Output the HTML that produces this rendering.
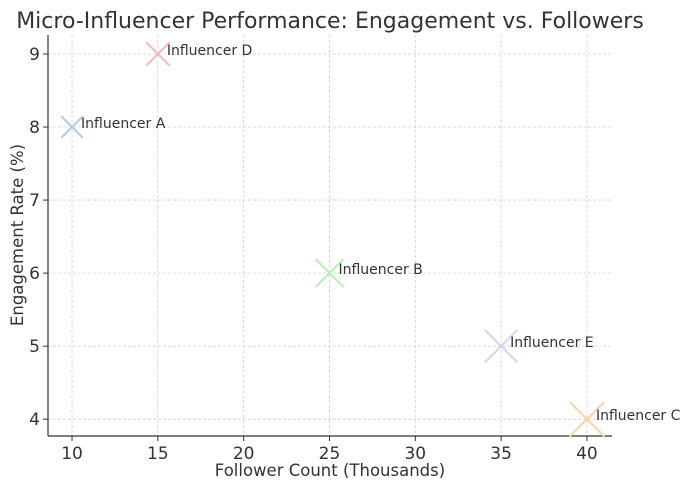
<!DOCTYPE html>
<html><head><meta charset="utf-8"><style>
body{margin:0;background:#fff;}
svg{display:block;font-family:"DejaVu Sans","Liberation Sans",sans-serif;}
</style></head><body>
<svg id="chart" width="689" height="490" xmlns="http://www.w3.org/2000/svg">
<text x="330" y="28" font-size="22" fill="#333" text-anchor="middle">Micro-Influencer Performance: Engagement vs. Followers</text>
<g id="grid"></g><g id="axes"></g><g id="marks"></g>
<text x="330" y="476" font-size="16.5" fill="#333" text-anchor="middle">Follower Count (Thousands)</text>
<text transform="translate(23,235) rotate(-90)" font-size="16.5" fill="#333" text-anchor="middle">Engagement Rate (%)</text>
</svg>
<script>
const names=["Influencer A","Influencer B","Influencer C","Influencer D","Influencer E"];
const followers=[10,25,40,15,35];
const engagement=[8,6,4,9,5];
const colors=["#a8cdf7","#b5f0b5","#f9d3ab","#f8b8b8","#d5d3f1"];
const xTicks=[10,15,20,25,30,35,40];
const yTicks=[4,5,6,7,8,9];
const L=48,R=612,T=35,B=436;
const x0=8.6,x1=41.46,y0=3.77,y1=9.26;
const sx=v=>L+(v-x0)/(x1-x0)*(R-L);
const sy=v=>B-(v-y0)/(y1-y0)*(B-T);
const NS="http://www.w3.org/2000/svg";
function mk(t,a,p){const e=document.createElementNS(NS,t);for(const k in a)e.setAttribute(k,a[k]);p.appendChild(e);return e;}
const grid=document.getElementById('grid'),axes=document.getElementById('axes'),marks=document.getElementById('marks');
xTicks.forEach(v=>{
 const g=mk('line',{x1:sx(v),x2:sx(v),y1:T,y2:B,stroke:'#d0d0d0','stroke-dasharray':'3,2','stroke-width':0.8},grid);
 
 
 mk('line',{x1:sx(v),x2:sx(v),y1:B,y2:B+5,stroke:'#333'},axes);
 const t=mk('text',{x:sx(v),y:B+23,'font-size':17,fill:'#333','text-anchor':'middle'},axes);t.textContent=v;
 
 
});
yTicks.forEach(v=>{
 const g=mk('line',{x1:L,x2:R,y1:sy(v),y2:sy(v),stroke:'#d0d0d0','stroke-dasharray':'3,2','stroke-width':0.8},grid);
 
 
 mk('line',{x1:L-5,x2:L,y1:sy(v),y2:sy(v),stroke:'#333'},axes);
 const t=mk('text',{x:L-8,y:sy(v)+6,'font-size':17,fill:'#333','text-anchor':'end'},axes);t.textContent=v;
 
 
});
const xa=mk('line',{x1:L,x2:R,y1:B,y2:B,stroke:'#333','stroke-width':1.2},axes);


const ya=mk('line',{x1:L,x2:L,y1:T,y2:B,stroke:'#333','stroke-width':1.2},axes);


names.forEach((n,i)=>{
 const cx=sx(followers[i]),cy=sy(engagement[i]),h=8.5+followers[i]*0.22;
 const g=mk('g',{},marks);
 
 
 mk('line',{x1:cx-h,y1:cy-h,x2:cx+h,y2:cy+h,stroke:colors[i],'stroke-width':2},g);
 mk('line',{x1:cx-h,y1:cy+h,x2:cx+h,y2:cy-h,stroke:colors[i],'stroke-width':2},g);
 const t=mk('text',{x:cx+9,y:cy+1,'font-size':14,fill:'#333'},g);t.textContent=n;
 
 
});
</script>
</body></html>
